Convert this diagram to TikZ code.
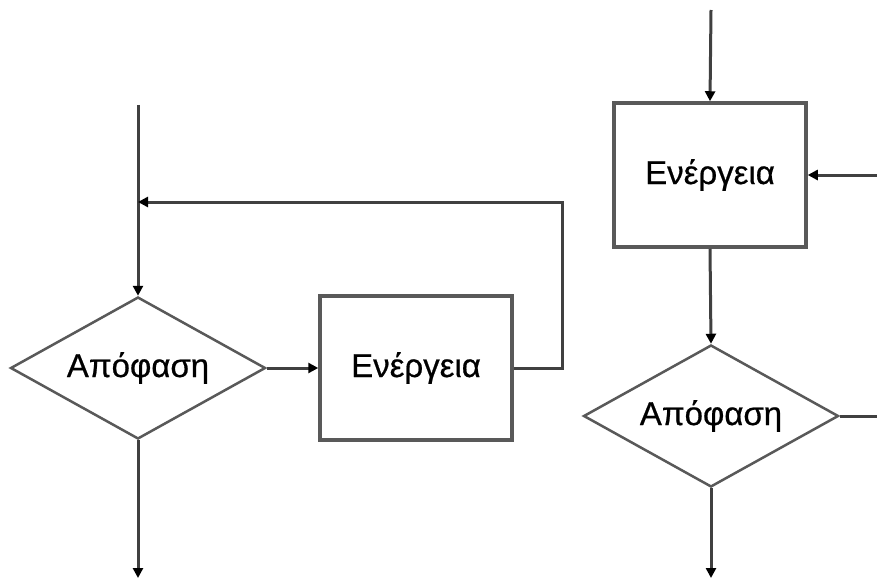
\documentclass[tikz,border=0pt]{standalone}
\usepackage{fontspec}
\setmainfont{Liberation Sans}
\newfontfamily\lblfont{Liberation Sans}[FakeBold=0.6]
\usetikzlibrary{shapes.geometric,arrows.meta}
\begin{document}
\begin{tikzpicture}[x=1pt,y=-1pt,
  ln/.style={draw=black!75, line width=3pt},
  arr/.style={ln, -{Triangle[length=10pt,width=10pt,fill=black,color=black]}},
  actbox/.style={draw=black!65, line width=3.5pt, fill=white, minimum width=192pt, minimum height=144pt, inner sep=0pt, font=\lblfont\fontsize{33}{36}\selectfont},
  decide/.style={draw=black!65, line width=2.5pt, diamond, fill=white, minimum width=255pt, minimum height=142pt, inner sep=0pt, aspect=1.8, font=\lblfont\fontsize{33}{36}\selectfont}]
\useasboundingbox (0,0) rectangle (877,583);
% left diagram
\coordinate (ltop) at (138,105);
\coordinate (ljoin) at (138,202);
\node[decide] (ld) at (138,368) {Απόφαση};
\node[actbox] (lb) at (416,368) {Ενέργεια};
\coordinate (lcorner) at (562,368);
\coordinate (lcorner2) at (562,202);
\coordinate (lend) at (138,578);
\draw[ln] (ltop) -- (ljoin);
\draw[arr] (ljoin) -- (ld.north);
\draw[arr] (ld.east) -- (lb.west);
\draw[arr] (lb.east) -- (lcorner) -- (lcorner2) -- (ljoin);
\draw[arr] (ld.south) -- (lend);
% right diagram
\coordinate (rtop) at (711,10);
\node[actbox] (rb) at (710,175) {Ενέργεια};
\coordinate (rin) at (877,175);
\node[decide] (rd) at (711,416) {Απόφαση};
\coordinate (rout) at (877,416);
\coordinate (rend) at (711,578);
\draw[arr] (rtop) -- (rb.north);
\draw[arr] (rin) -- (rb.east);
\draw[arr] (rb.south) -- (rd.north);
\draw[ln] (rd.east) -- (rout);
\draw[arr] (rd.south) -- (rend);
\end{tikzpicture}
\end{document}
